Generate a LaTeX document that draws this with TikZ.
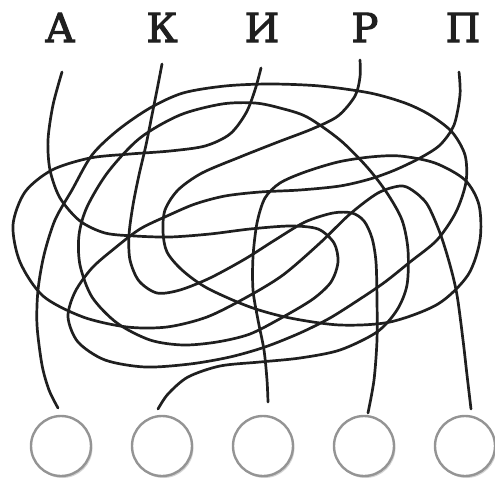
\documentclass[tikz,border=0pt]{standalone}
\usepackage{fontspec}
\newfontfamily\lettersfont[FakeBold=2.5]{DejaVu Serif}
\usetikzlibrary{shadows}
\begin{document}
\begin{tikzpicture}[x=1pt, y=-1pt,
		wire/.style={line width=2.7pt, color=black!88, line cap=round},
		letter/.style={anchor=base, font=\lettersfont\fontsize{40}{40}\selectfont, text=black!88},
		hole/.style={circle, minimum size=60pt, inner sep=0pt, draw=black!42, line width=2.4pt, fill=white,
			drop shadow={opacity=0.35, shadow xshift=1.5pt, shadow yshift=-2pt}}]
		\useasboundingbox (0,0) rectangle (495,482);
		% letters
		\node[letter] (la) at (60,42) {А};
		\node[letter] (lk) at (162,42) {К};
		\node[letter] (li) at (262,42) {И};
		\node[letter] (lr) at (365,42) {Р};
		\node[letter] (lp) at (463,42) {П};
		% empty circles
		\node[hole] (c1) at (61,446) {};
		\node[hole] (c2) at (162,446) {};
		\node[hole] (c3) at (263,446) {};
		\node[hole] (c4) at (364,446) {};
		\node[hole] (c5) at (465,446) {};
		% wire ends
		\coordinate (a-in) at (62,72);
		\coordinate (k-in) at (162,64);
		\coordinate (i-in) at (261,68);
		\coordinate (r-in) at (360,60);
		\coordinate (p-in) at (459,72);
		\coordinate (c1-out) at (58,408);
		\coordinate (c2-out) at (158,409);
		\coordinate (c3-out) at (268,402);
		\coordinate (c4-out) at (368,413);
		\coordinate (c5-out) at (471,409);
		% A
		\draw[wire] plot[smooth] coordinates {(a-in) (53,105) (48,140) (50,170) (60,198) (80,221) (105,233) (135,236) (170,237) (210,234) (250,229) (290,226) (318,229) (334,243) (338,262) (331,282) (313,299) (283,317) (250,334) (217,342) (183,345) (150,340) (117,323) (92,297) (80,265) (79,235) (87,207) (108,172) (140,138) (180,115) (222,104) (255,103) (280,108) (307,117) (340,140) (367,167) (387,193) (402,220) (408,250) (407,285) (397,310) (377,332) (340,350) (300,358) (260,362) (220,366) (188,377) (168,394) (c2-out)};
		% K
		\draw[wire] plot[smooth] coordinates {(k-in) (157,90) (152,115) (146,145) (139,175) (133,205) (129,235) (130,260) (139,281) (157,293) (180,290) (210,278) (245,259) (275,240) (305,222) (333,213) (352,213) (364,221) (372,238) (376,262) (377,300) (377,340) (374,380) (c4-out)};
		% I
		\draw[wire] plot[smooth] coordinates {(i-in) (255,90) (246,113) (230,134) (205,146) (170,151) (130,154) (90,158) (52,170) (25,192) (13,225) (20,262) (43,296) (83,317) (127,327) (167,327) (207,317) (247,297) (283,275) (320,243) (350,214) (378,193) (400,186) (412,190) (427,204) (440,233) (450,265) (457,295) (463,340) (467,375) (c5-out)};
		% R
		\draw[wire] plot[smooth] coordinates {(r-in) (360,77) (355,96) (338,116) (312,129) (278,142) (240,157) (202,173) (178,190) (165,210) (163,232) (167,252) (182,270) (207,288) (250,307) (290,318) (340,325) (390,322) (438,304) (468,275) (480,240) (479,205) (465,180) (435,163) (400,156) (370,157) (338,162) (305,172) (280,183) (265,198) (257,223) (253,257) (253,290) (258,320) (264,350) (267,380) (c3-out)};
		% P
		\draw[wire] plot[smooth] coordinates {(p-in) (460,95) (454,125) (440,145) (420,158) (395,170) (370,179) (340,186) (300,190) (260,192) (225,196) (195,204) (167,216) (140,229) (115,248) (92,268) (75,292) (68,317) (78,342) (105,360) (145,367) (190,364) (230,357) (265,347) (300,333) (330,318) (360,299) (385,282) (410,262) (437,240) (456,212) (466,182) (465,155) (452,132) (430,115) (405,103) (370,93) (320,86) (270,84) (225,86) (183,93) (150,108) (118,130) (92,155) (72,190) (55,220) (44,255) (38,290) (37,325) (42,365) (49,390) (c1-out)};
\end{tikzpicture}
\end{document}
